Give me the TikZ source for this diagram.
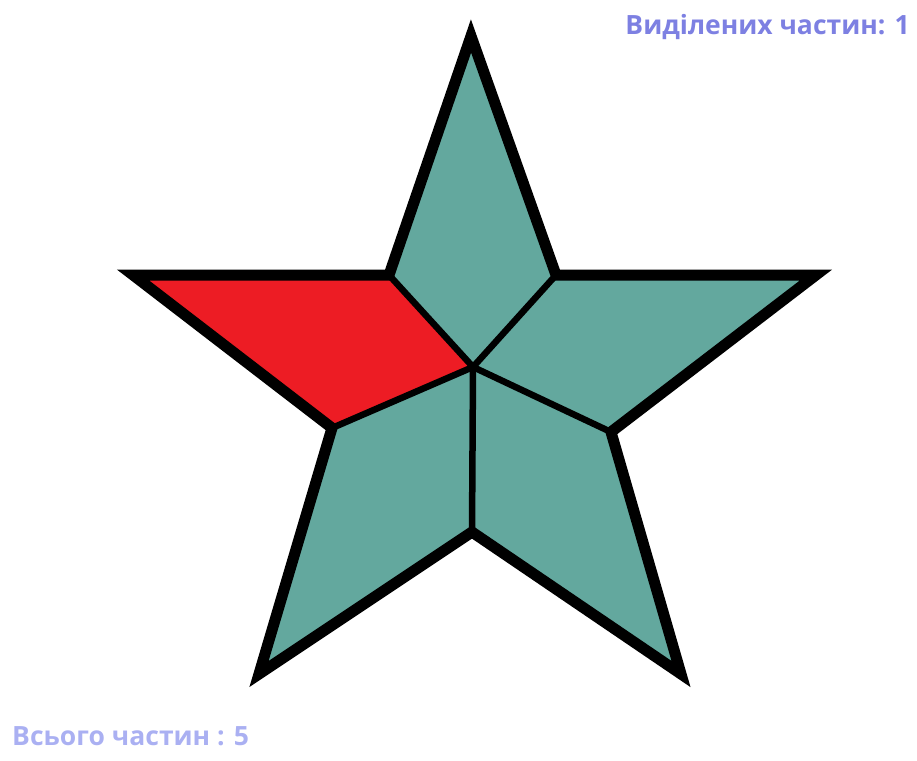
\documentclass[tikz,border=0pt]{standalone}
\usepackage{fontspec}
\setmainfont{Open Sans}
\definecolor{sarcelle}{RGB}{99,168,158}
\definecolor{rouge}{RGB}{237,28,36}
\definecolor{bleuA}{RGB}{125,128,226}
\definecolor{bleuB}{RGB}{170,176,242}
\begin{document}
\begin{tikzpicture}[x=1pt,y=-1pt]
    \useasboundingbox (0,0) rectangle (917,760);
    %%%%%%%%%%%%%%%%%%%%%%%%%%%%%%%%%%%%%% Sommets
    \coordinate (C) at (473,367);
    \coordinate (P1) at (471,36);
    \coordinate (P2) at (816,275);
    \coordinate (P3) at (681,674);
    \coordinate (P4) at (259,674);
    \coordinate (P5) at (133,275);
    \coordinate (I1) at (556,275);
    \coordinate (I2) at (611,432);
    \coordinate (I3) at (472,532);
    \coordinate (I4) at (332,428);
    \coordinate (I5) at (389,275);

    %%%%%%%%%%%%%%%%%%%%%%%%%%%%%%%%%%%%%% Parties
    \fill[sarcelle] (C)--(I5)--(P1)--(I1)--cycle;
    \fill[sarcelle] (C)--(I1)--(P2)--(I2)--cycle;
    \fill[sarcelle] (C)--(I2)--(P3)--(I3)--cycle;
    \fill[sarcelle] (C)--(I3)--(P4)--(I4)--cycle;
    \fill[rouge] (C)--(I4)--(P5)--(I5)--cycle;

    %%%%%%%%%%%%%%%%%%%%%%%%%%%%%%%%%%%%%% Traits
    \tikzstyle{coupe}=[line width=6.5pt]
    \draw[coupe] (C)--(I1);
    \draw[coupe] (C)--(I2);
    \draw[coupe] (C)--(I3);
    \draw[coupe] (C)--(I4);
    \draw[coupe] (C)--(I5);

    \tikzstyle{bord}=[line width=11pt,line join=miter,miter limit=20]
    \draw[bord] (P1)--(I1)--(P2)--(I2)--(P3)--(I3)--(P4)--(I4)--(P5)--(I5)--cycle;

    %%%%%%%%%%%%%%%%%%%%%%%%%%%%%%%%%%%%%% Textes
    \node[anchor=base east,inner sep=0pt,text=bleuA,font=\fontsize{26.5}{30}\selectfont\bfseries] (selection) at (910,35) {Виділених частин: 1};
    \node[anchor=base west,inner sep=0pt,text=bleuB,font=\fontsize{26.5}{30}\selectfont\bfseries] (total) at (12,745) {Всього частин : 5};
\end{tikzpicture}
\end{document}
